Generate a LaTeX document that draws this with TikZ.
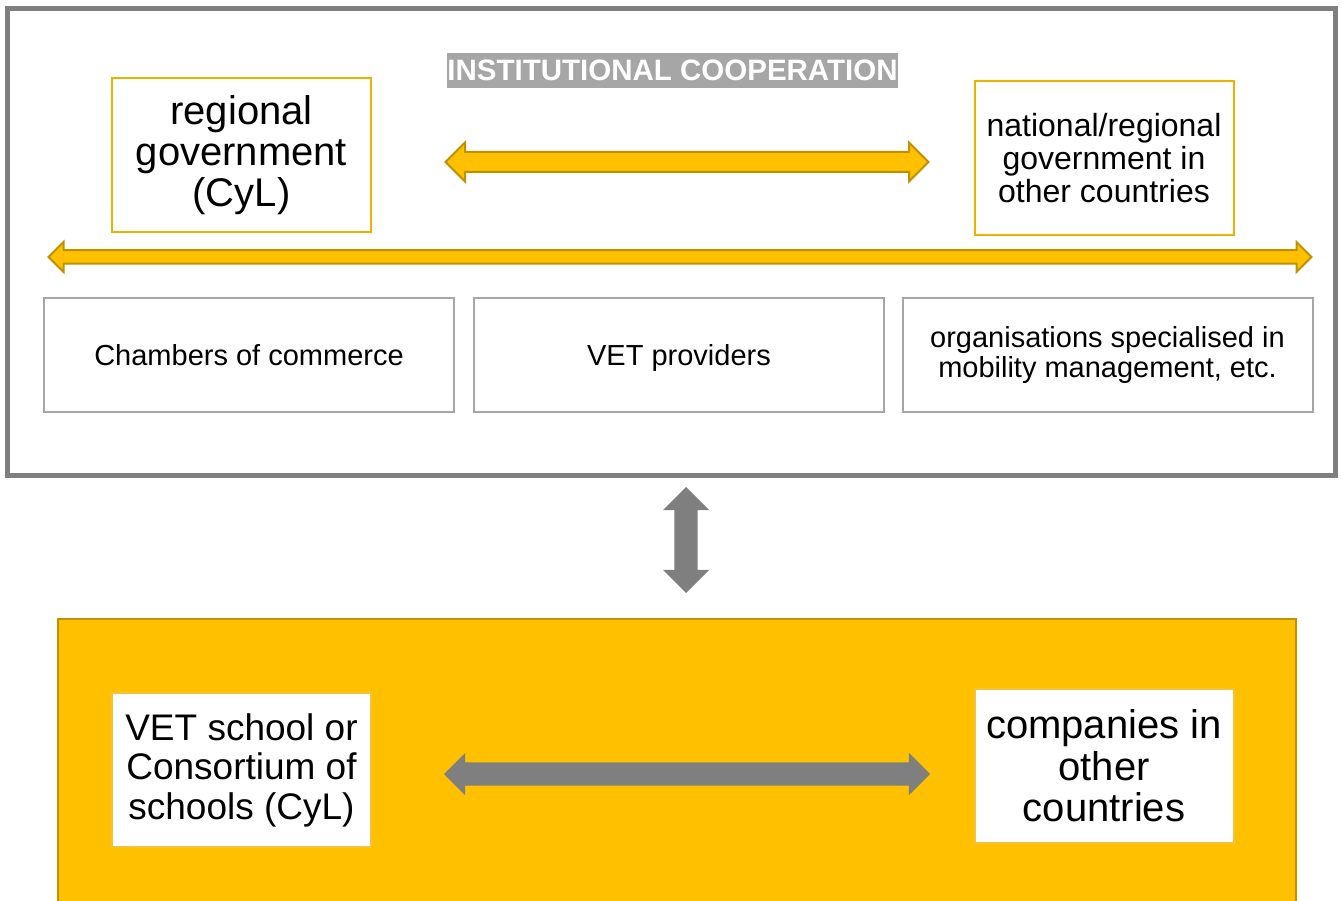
\documentclass[tikz,border=0pt]{standalone}
\usepackage{fontspec}
\setmainfont{Liberation Sans}
\usepackage{xcolor}
\usetikzlibrary{shapes.arrows}

\definecolor{frameGray}{HTML}{7F7F7F}
\definecolor{titleGray}{HTML}{A6A6A6}
\definecolor{boxGray}{HTML}{A6A6A6}
\definecolor{amber}{HTML}{FFC000}
\definecolor{amberDark}{HTML}{BF9000}
\definecolor{amberLine}{HTML}{EDB100}
\definecolor{amberPale}{HTML}{F3C13A}

\begin{document}
\begin{tikzpicture}[x=1pt, y=-1pt,
        govbox/.style={draw=amberLine, line width=2pt, align=center, inner sep=0pt,
            minimum width=259pt, minimum height=154pt},
        partnerbox/.style={draw=boxGray, line width=2pt, align=center, inner sep=0pt,
            minimum width=410pt, minimum height=114pt, font=\fontsize{29}{30}\selectfont},
        schoolbox/.style={fill=white, draw=amberPale, line width=2pt, align=center, inner sep=0pt,
            minimum width=259pt, minimum height=154pt},
        yarrow/.style={double arrow, fill=amber, draw=amberDark, line width=2pt, inner xsep=0pt},
        garrow/.style={double arrow, fill=frameGray, draw=none, inner xsep=0pt}]
        \useasboundingbox (0,0) rectangle (1343,901);

        % upper block: institutional cooperation
        \draw[frameGray, line width=5pt] (7,9) rectangle (1335,475);
        \node[fill=titleGray, text=white, font=\bfseries\fontsize{29.5}{29.5}\selectfont,
            minimum width=451pt, minimum height=35pt, inner sep=0pt] (coop) at (672.5,70.5) {INSTITUTIONAL COOPERATION};

        \node[govbox, font=\fontsize{40}{41}\selectfont] (reggov) at (241.5,155) {regional\\government\\(CyL)};
        \node[govbox, font=\fontsize{32}{33}\selectfont] (natgov) at (1104,158.5) {national/regional\\government in\\other countries};
        \node[yarrow, minimum height=483pt, inner ysep=9pt, double arrow head extend=9.5pt] (govarrow) at (687,162) {};

        \node[yarrow, minimum height=1263pt, inner ysep=5.75pt, double arrow head extend=8.25pt] (allarrow) at (680,257) {};

        \node[partnerbox, text depth=0pt] (chambers) at (249,355) {Chambers of commerce};
        \node[partnerbox, text depth=0pt] (vetprov) at (679,355) {VET providers};
        \node[partnerbox] (mobility) at (1107.5,355) {organisations specialised in\\mobility management, etc.};

        \node[garrow, rotate=90, minimum height=106pt, inner ysep=11.5pt, double arrow head extend=11.5pt] (linkarrow) at (686,540) {};

        % lower block: schools and companies
        \draw[fill=amber, draw=amberDark, line width=2pt] (58,619) rectangle (1296,906);
        \node[schoolbox, font=\fontsize{37}{39.5}\selectfont] (school) at (241.5,770) {VET school or\\Consortium of\\schools (CyL)};
        \node[schoolbox, font=\fontsize{40}{41.5}\selectfont] (companies) at (1104,766) {companies in\\other\\countries};
        \node[garrow, minimum height=486pt, inner ysep=11.5pt, double arrow head extend=9.5pt] (schoolarrow) at (687,774) {};
\end{tikzpicture}
\end{document}
